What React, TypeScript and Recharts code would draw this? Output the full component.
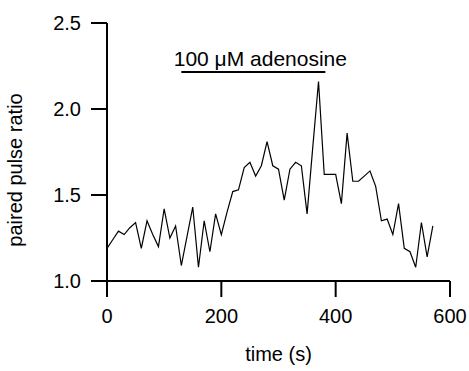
import { LineChart, Line, XAxis, YAxis, ReferenceLine } from 'recharts'

const times = [
  0, 10, 20, 30, 40, 50, 60, 70, 80, 90, 100, 110, 120, 130, 140, 150, 160, 170, 180, 190,
  200, 210, 220, 230, 240, 250, 260, 270, 280, 290, 300, 310, 320, 330, 340, 350, 360, 370, 380, 390,
  400, 410, 420, 430, 440, 450, 460, 470, 480, 490, 500, 510, 520, 530, 540, 550, 560, 570,
]

const ratios = [
  1.19, 1.24, 1.29, 1.27, 1.31, 1.34, 1.19, 1.35, 1.27, 1.2, 1.42, 1.25, 1.32, 1.09, 1.26, 1.43, 1.08, 1.35, 1.17, 1.39,
  1.27, 1.4, 1.52, 1.53, 1.66, 1.69, 1.61, 1.67, 1.81, 1.67, 1.65, 1.47, 1.65, 1.69, 1.67, 1.39, 1.78, 2.16, 1.62, 1.62,
  1.62, 1.45, 1.86, 1.58, 1.58, 1.61, 1.64, 1.55, 1.35, 1.36, 1.27, 1.45, 1.19, 1.17, 1.08, 1.34, 1.14, 1.32,
]

const xTicks = [0, 200, 400, 600]
const yTicks = [1.0, 1.5, 2.0, 2.5]

// drug application bar
const drugStart = 130
const drugEnd = 382
const drugLevel = 2.215
const drugLabel = '100 \u03bcM adenosine'

const data = times.map((t, i) => ({ t, ratio: ratios[i] }))

const font = '"Liberation Sans", Arial, sans-serif'
const axisStyle = { stroke: '#000', strokeWidth: 2 }

export default function App() {
  return (
    <div style={{ width: 469, height: 371, background: '#fff', fontFamily: font }}>
      <style>{`body{margin:0}`}</style>
      <LineChart width={469} height={371} data={data} margin={{ top: 23, right: 19, bottom: 0, left: 0 }}>
        <XAxis
          dataKey="t"
          type="number"
          domain={[0, 600]}
          ticks={xTicks}
          height={90}
          tickSize={16}
          tickMargin={12}
          axisLine={axisStyle}
          tickLine={axisStyle}
          tick={{ fill: '#000', fontSize: 20, fontFamily: font }}
          label={{ value: 'time (s)', position: 'insideBottom', offset: 10, fill: '#000', fontSize: 20, fontFamily: font }}
        />
        <YAxis
          type="number"
          domain={[1, 2.5]}
          ticks={yTicks}
          width={107}
          tickSize={16}
          tickMargin={10}
          axisLine={axisStyle}
          tickLine={axisStyle}
          tickFormatter={(v: number) => v.toFixed(1)}
          tick={{ fill: '#000', fontSize: 20, fontFamily: font }}
          label={{
            content: () => (
              <text
                x={22}
                y={170}
                transform="rotate(-90, 22, 170)"
                textAnchor="middle"
                fill="#000"
                fontSize={20}
                fontFamily={font}
              >
                paired pulse ratio
              </text>
            ),
          }}
        />
        <ReferenceLine
          segment={[
            { x: drugStart, y: drugLevel },
            { x: drugEnd, y: drugLevel },
          ]}
          stroke="#000"
          strokeWidth={2}
          ifOverflow="visible"
          label={{
            content: (props: any) => {
              const vb = props.viewBox || {}
              const cx = (vb.x ?? 0) + (vb.width ?? 0) / 2 + 7
              return (
                <text x={cx} y={(vb.y ?? 0) - 6} textAnchor="middle" fill="#000" fontSize={21} fontFamily={font}>
                  {drugLabel}
                </text>
              )
            },
          }}
        />
        <Line
          type="linear"
          dataKey="ratio"
          stroke="#000"
          strokeWidth={1.2}
          dot={false}
          isAnimationActive={false}
        />
      </LineChart>
    </div>
  )
}
